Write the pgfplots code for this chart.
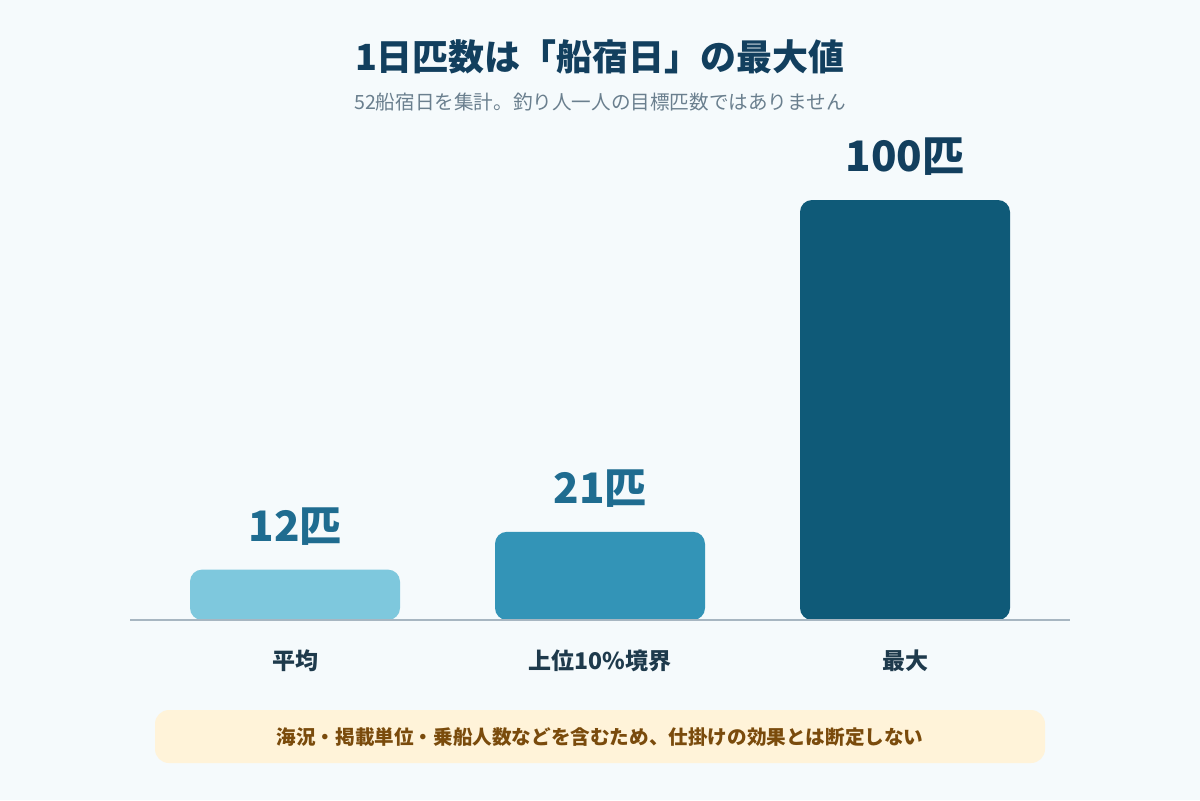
\documentclass[border=0pt]{standalone}
\usepackage{pgfplots}
\pgfplotsset{compat=1.18}
\usepackage{fontspec}
\setmainfont{Noto Sans CJK JP}
\definecolor{bgc}{HTML}{F5FAFC}
\definecolor{barA}{HTML}{7EC8DD}
\definecolor{barB}{HTML}{3394B7}
\definecolor{barC}{HTML}{0F5A78}
\definecolor{lblmid}{HTML}{1F6C90}
\definecolor{navy}{HTML}{123F5E}
\definecolor{subc}{HTML}{6A7F8E}
\definecolor{catc}{HTML}{1E3A4C}
\definecolor{basec}{HTML}{A7B6C1}
\definecolor{notebg}{HTML}{FFF3D9}
\definecolor{notefg}{HTML}{7A4B0C}

\begin{document}
\begin{tikzpicture}
% page background, 1200x800 px at 0.5pt per px
\fill[bgc] (0,0) rectangle (600pt,400pt);
\node[font=\fontsize{18}{22}\selectfont\bfseries, text=navy] at (300pt,371.5pt) {1日匹数は「船宿日」の最大値};
\node[font=\fontsize{9.8}{12}\selectfont, text=subc] at (300pt,349pt) {52船宿日を集計。釣り人一人の目標匹数ではありません};

\begin{axis}[
    at={(65pt,90pt)}, anchor=south west,
    scale only axis,
    width=470pt, height=210pt,
    xmin=-0.541, xmax=2.541,
    ymin=0, ymax=100,
    axis lines=none,
    clip=false,
    ybar, bar width=105pt,
    xtick={0,1,2},
    xticklabels={平均,上位10\%境界,最大},
    point meta=explicit symbolic,
    nodes near coords,
    every node near coord/.append style={anchor=center, yshift=21.5pt,
        font=\fontsize{21}{24}\selectfont\bfseries},
]
\addplot[fill=barA, draw=none, bar shift=0pt, rounded corners=6pt,
    every node near coord/.append style={text=lblmid}]
    coordinates {(0,12) [12匹]};
\addplot[fill=barB, draw=none, bar shift=0pt, rounded corners=6pt,
    every node near coord/.append style={text=lblmid}]
    coordinates {(1,21) [21匹]};
\addplot[fill=barC, draw=none, bar shift=0pt, rounded corners=6pt,
    every node near coord/.append style={text=navy}]
    coordinates {(2,100) [100匹]};
\draw[basec, line width=1.2pt] (axis cs:-0.541,0) -- (axis cs:2.541,0);
\node[font=\fontsize{11.5}{14}\selectfont\bfseries, text=catc] at (axis cs:0,0) [yshift=-20.5pt] {平均};
\node[font=\fontsize{11.5}{14}\selectfont\bfseries, text=catc] at (axis cs:1,0) [yshift=-20.5pt] {上位10\%境界};
\node[font=\fontsize{11.5}{14}\selectfont\bfseries, text=catc] at (axis cs:2,0) [yshift=-20.5pt] {最大};
\end{axis}

\fill[notebg, rounded corners=7pt] (77.5pt,18.5pt) rectangle (522.5pt,45pt);
\node[font=\fontsize{9.8}{12}\selectfont\bfseries, text=notefg] at (300pt,31.5pt) {海況・掲載単位・乗船人数などを含むため、仕掛けの効果とは断定しない};
\end{tikzpicture}
\end{document}
